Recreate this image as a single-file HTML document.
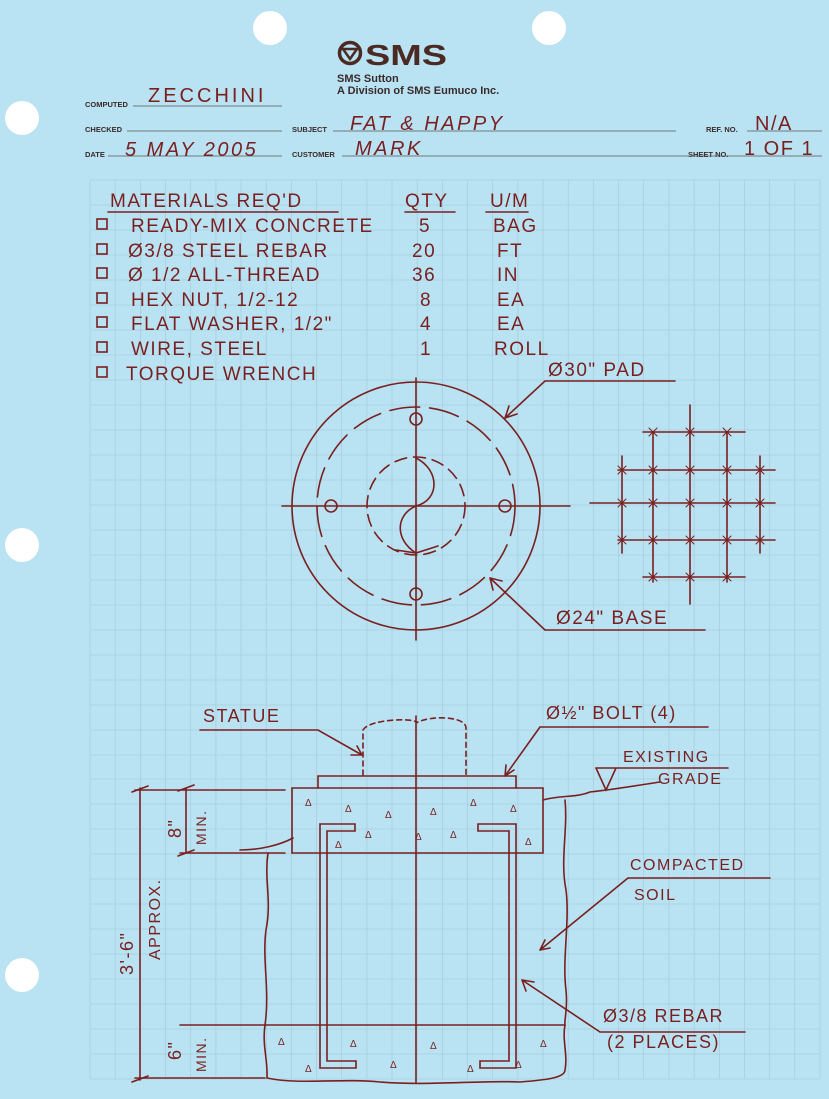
<!DOCTYPE html>
<html><head><meta charset="utf-8"><style>
html,body{margin:0;padding:0;background:#b9e2f2;}
svg{display:block}
.h{font-family:"Liberation Sans",sans-serif;fill:#7a1f1f;letter-spacing:1.5px}
.p{font-family:"Liberation Sans",sans-serif;fill:#3a2a2a;font-weight:bold}
.i{stroke:#7a1f1f;fill:none;stroke-width:1.6;stroke-linecap:round}
</style></head><body>
<svg width="829" height="1099" viewBox="0 0 829 1099" xmlns="http://www.w3.org/2000/svg">
<rect width="829" height="1099" fill="#b9e2f2"/>
<g stroke="#a2c9d6" stroke-width="0.6" fill="none">
<path d="M90 180V1079M115.2 180V1079M140.3 180V1079M165.5 180V1079M190.7 180V1079M215.9 180V1079M241 180V1079M266.2 180V1079M291.4 180V1079M316.5 180V1079M341.7 180V1079M366.9 180V1079M392 180V1079M417.2 180V1079M442.4 180V1079M467.6 180V1079M492.7 180V1079M517.9 180V1079M543.1 180V1079M568.2 180V1079M593.4 180V1079M618.6 180V1079M643.7 180V1079M668.9 180V1079M694.1 180V1079M719.3 180V1079M744.4 180V1079M769.6 180V1079M794.8 180V1079M820 180V1079"/>
<path d="M90 180H820M90 205H820M90 230H820M90 255H820M90 280H820M90 305H820M90 330H820M90 355H820M90 380H820M90 405H820M90 430H820M90 455H820M90 480H820M90 505H820M90 530H820M90 555H820M90 580H820M90 605H820M90 630H820M90 655H820M90 680H820M90 705H820M90 730H820M90 755H820M90 779H820M90 804H820M90 829H820M90 854H820M90 879H820M90 904H820M90 929H820M90 954H820M90 979H820M90 1004H820M90 1029H820M90 1054H820M90 1079H820"/>
</g>
<g fill="#fff"><circle cx="270" cy="28" r="17"/><circle cx="549" cy="28" r="17"/><circle cx="22" cy="118" r="17"/><circle cx="22" cy="545" r="17"/><circle cx="22" cy="975" r="17"/></g>
<circle cx="350" cy="53" r="10.5" fill="none" stroke="#4a2a22" stroke-width="3.5"/>
<path d="M343 49 L357 49 L350 59 Z" fill="none" stroke="#4a2a22" stroke-width="2.5"/>
<text x="365" y="65" font-family="Liberation Sans" font-weight="bold" font-size="29" fill="#4a2a22" textLength="82" lengthAdjust="spacingAndGlyphs">SMS</text>
<text x="337" y="82" class="p" font-size="11">SMS Sutton</text>
<text x="337" y="94" class="p" font-size="11">A Division of SMS Eumuco Inc.</text>
<g class="p" font-size="7.5">
<text x="85" y="107">COMPUTED</text><text x="85" y="132">CHECKED</text><text x="85" y="157">DATE</text>
<text x="292" y="132">SUBJECT</text><text x="292" y="157">CUSTOMER</text>
<text x="706" y="132">REF. NO.</text><text x="688" y="157">SHEET NO.</text>
</g>
<g stroke="#555" stroke-width="0.8">
<path d="M133 106H282M127 131H282M108 156H282M333 131H676M342 156H822M747 131H822M733 156H822"/>
</g>
<g class="h" font-size="20">
<text x="148" y="102" letter-spacing="3">ZECCHINI</text>
<text x="350" y="130" font-style="italic" letter-spacing="2.5">FAT &amp; HAPPY</text>
<text x="125" y="156" font-style="italic" letter-spacing="2.5">5 MAY 2005</text>
<text x="355" y="155" font-style="italic" letter-spacing="2.5">MARK</text>
<text x="755" y="130">N/A</text>
<text x="744" y="155">1 OF 1</text>
</g>
<g class="h" font-size="19">
<text x="110" y="207">MATERIALS REQ'D</text>
<text x="405" y="207">QTY</text><text x="490" y="207">U/M</text>
<text x="131" y="232">READY-MIX CONCRETE</text>
<text x="128" y="257">Ø3/8 STEEL REBAR</text>
<text x="128" y="281">Ø 1/2 ALL-THREAD</text>
<text x="131" y="306">HEX NUT, 1/2-12</text>
<text x="131" y="330">FLAT WASHER, 1/2"</text>
<text x="131" y="355">WIRE, STEEL</text>
<text x="126" y="380">TORQUE WRENCH</text>
<text x="419" y="232">5</text><text x="412" y="257">20</text><text x="412" y="281">36</text>
<text x="420" y="306">8</text><text x="420" y="330">4</text><text x="420" y="355">1</text>
<text x="493" y="232">BAG</text><text x="497" y="257">FT</text><text x="497" y="281">IN</text>
<text x="497" y="306">EA</text><text x="497" y="330">EA</text><text x="494" y="355">ROLL</text>
</g>
<g class="i">
<path d="M108 212H338M405 212H455M486 212H528"/>
<rect x="97" y="219" width="10" height="10"/><rect x="97" y="244" width="10" height="10"/>
<rect x="97" y="268" width="10" height="10"/><rect x="97" y="293" width="10" height="10"/>
<rect x="97" y="317" width="10" height="10"/><rect x="97" y="342" width="10" height="10"/>
<rect x="97" y="367" width="10" height="10"/>
</g>
<g class="i">
<circle cx="416" cy="506" r="124"/>
<circle cx="416" cy="506" r="99" stroke-dasharray="30 10"/>
<circle cx="416" cy="506" r="49" stroke-dasharray="12 7"/>
<path d="M282 506H570M416 378V640"/>
<circle cx="331" cy="506" r="6"/><circle cx="505" cy="506" r="6"/>
<circle cx="416" cy="419" r="6"/><circle cx="416" cy="594" r="6"/>
<path d="M416 458 C440 470 440 500 416 506 C395 515 395 540 416 553"/>
<path d="M396 550 L416 553 L438 546"/>
<path d="M545 381H675M545 381 L505 418 M505 418 l4 -12 M505 418 l12 -4"/>
<path d="M545 630H705M545 630 L490 578 M490 578 l12 3 M490 578 l3 12"/>
<path d="M622 456V553M653 432V582M690 405V604M727 432V582M760 456V553"/>
<path d="M643 432H745M618 470H775M590 503H775M618 540H775M643 577H745"/>
<path stroke-width="1" d="M649 428l8 8M657 428l-8 8M686 428l8 8M694 428l-8 8M723 428l8 8M731 428l-8 8M618 466l8 8M626 466l-8 8M649 466l8 8M657 466l-8 8M686 466l8 8M694 466l-8 8M723 466l8 8M731 466l-8 8M756 466l8 8M764 466l-8 8M618 499l8 8M626 499l-8 8M649 499l8 8M657 499l-8 8M686 499l8 8M694 499l-8 8M723 499l8 8M731 499l-8 8M756 499l8 8M764 499l-8 8M618 536l8 8M626 536l-8 8M649 536l8 8M657 536l-8 8M686 536l8 8M694 536l-8 8M723 536l8 8M731 536l-8 8M756 536l8 8M764 536l-8 8M649 573l8 8M657 573l-8 8M686 573l8 8M694 573l-8 8M723 573l8 8M731 573l-8 8"/>
</g>
<g class="h" font-size="19">
<text x="548" y="376">Ø30" PAD</text>
<text x="556" y="624">Ø24" BASE</text>
</g>
<g class="i">
<path d="M363 775 V730 C370 718 420 718 416 723 C430 715 466 716 466 728 V775" stroke-dasharray="5 4"/>
<path d="M416 716V1082"/>
<path d="M318 788V776H516V788"/>
<path d="M292 788H543V853H292Z"/>
<path d="M200 730H318L362 755M362 755l-11 0M362 755l-5-9"/>
<path d="M540 727H708M540 727L505 776M505 776l1-11M505 776l9-6"/>
<path d="M596 768H728M596 768L606 790L616 768"/>
<path d="M543 800C560 795 575 798 590 792C610 790 640 785 660 782"/>
<path d="M293 838C280 845 260 850 240 850"/>
<path d="M140 788V1080M132 792l16-6M132 1082l16-6"/>
<path d="M186 788V853M178 791l16-6M178 856l16-6"/>
<path d="M135 790H285M180 853H285M135 1078H265M180 1025H265"/>
<path d="M268 853C264 880 272 900 266 930C262 960 270 990 265 1025"/>
<path d="M565 800C568 830 560 860 566 890C570 920 562 960 566 990C568 1010 564 1020 565 1025"/>
<path d="M265 1025H565"/>
<path d="M265 1025C262 1045 268 1060 267 1078C300 1085 340 1078 380 1082C430 1086 480 1080 520 1082C545 1080 565 1078 565 1070C568 1055 562 1040 565 1025"/>
<path d="M355 824H320V1068H356V1061H327V831H355Z"/>
<path d="M478 824H516V1068H480V1061H509V831H478Z"/>
<path d="M628 878H770M628 878L540 950M540 950l5-10M540 950l10-2"/>
<path d="M600 1032H745M600 1032L522 980M522 980l12 2M522 980l4 11"/>
</g>
<g fill="#7a1f1f" font-family="Liberation Sans" font-size="10">
<text x="305" y="806">Δ</text><text x="345" y="812">Δ</text><text x="385" y="818">Δ</text><text x="430" y="815">Δ</text><text x="470" y="806">Δ</text><text x="510" y="812">Δ</text>
<text x="365" y="838">Δ</text><text x="415" y="840">Δ</text><text x="450" y="838">Δ</text><text x="525" y="845">Δ</text><text x="335" y="848">Δ</text>
<text x="278" y="1045">Δ</text><text x="350" y="1047">Δ</text><text x="430" y="1049">Δ</text><text x="540" y="1047">Δ</text><text x="305" y="1072">Δ</text><text x="390" y="1068">Δ</text><text x="467" y="1072">Δ</text><text x="515" y="1068">Δ</text>
</g>
<g class="h" font-size="18">
<text x="203" y="722">STATUE</text>
<text x="546" y="719">Ø½" BOLT (4)</text>
<text x="623" y="762" font-size="16">EXISTING</text>
<text x="658" y="784" font-size="16">GRADE</text>
<text x="630" y="870" font-size="16">COMPACTED</text>
<text x="634" y="900" font-size="16">SOIL</text>
<text x="603" y="1022">Ø3/8 REBAR</text>
<text x="607" y="1048">(2 PLACES)</text>
<text transform="translate(133,975) rotate(-90)">3'-6"</text>
<text transform="translate(160,960) rotate(-90)" font-size="16">APPROX.</text>
<text transform="translate(181,838) rotate(-90)">8"</text>
<text transform="translate(206,845) rotate(-90)" font-size="14">MIN.</text>
<text transform="translate(181,1060) rotate(-90)">6"</text>
<text transform="translate(206,1072) rotate(-90)" font-size="14">MIN.</text>
</g>
</svg>
</body></html>
